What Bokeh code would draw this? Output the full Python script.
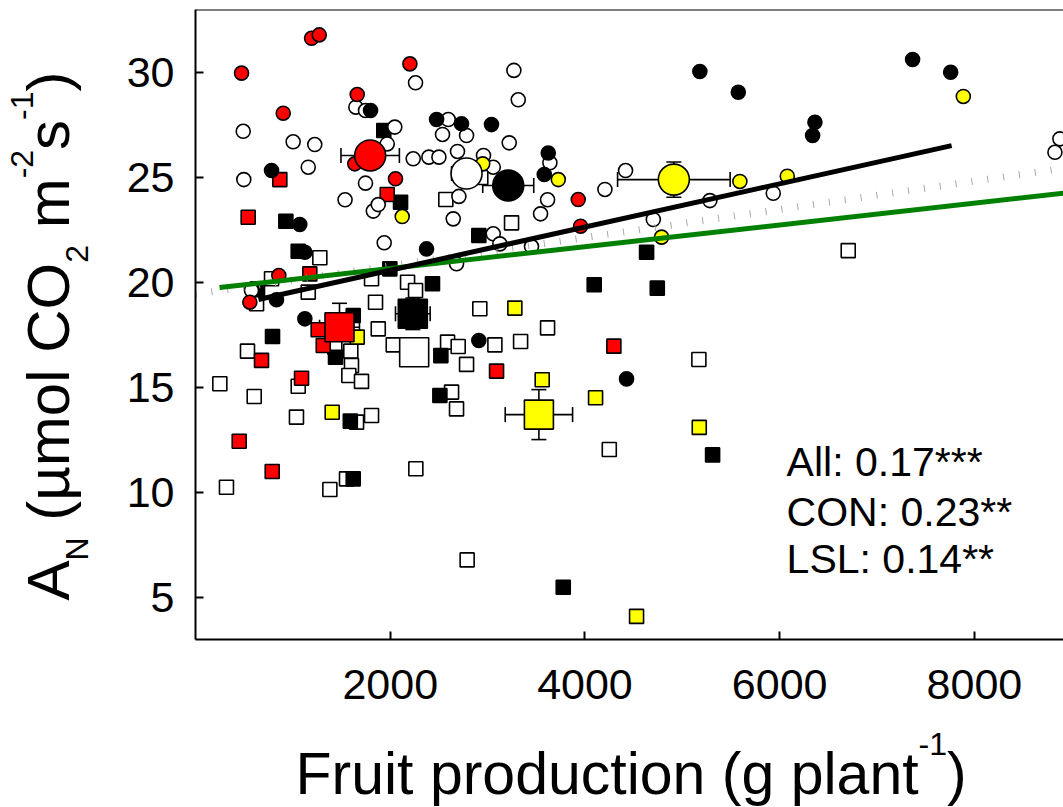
import math
from bokeh.plotting import figure
from bokeh.layouts import column, row
from bokeh.models import (Range1d, FixedTicker, Label, ColumnDataSource, Whisker,
                          TeeHead, Span)
from bokeh.embed import file_html
from bokeh.resources import INLINE
from bokeh.core.properties import value

# ---------------- data ----------------
x_ticks = [2000, 4000, 6000, 8000]
y_ticks = [5, 10, 15, 20, 25, 30]

# CON (circles)
con_red_x = [473, 1192, 1271, 2202, 901, 1661, 1636, 2054, 3931, 3955, 856, 558]
con_red_y = [29.97, 31.63, 31.79, 30.41, 28.06, 28.95, 25.65, 24.94, 23.95, 22.68, 20.33, 19.06]

con_white_x = [2260, 490, 496, 1003, 1225, 1158, 1647, 1746, 2047, 1969, 1746, 1536, 1826,
               1877, 2236, 2397, 2500, 2537, 2596, 2784, 2691, 2958, 2705, 3270, 3315, 3222,
               3058, 3640, 3616, 3544, 4205, 4417, 5283, 5934, 4702, 8878, 8827, 1938, 2681,
               3058, 2647, 575, 3126, 3451]
con_white_y = [29.51, 27.2, 24.9, 26.7, 26.57, 25.49, 28.35, 28.19, 27.4, 26.6, 24.73, 23.94, 23.4,
               23.71, 25.89, 25.97, 25.97, 27.05, 27.76, 27.0, 26.24, 26.05, 24.1, 30.1, 28.7, 26.65,
               25.49, 25.7, 23.94, 23.27, 24.43, 25.33, 23.9, 24.25, 23.0, 26.84, 26.2, 21.89, 20.89,
               22.32, 23.03, 19.62, 21.84, 21.71]

con_black_x = [1798, 781, 2476, 2732, 3040, 3623, 3582, 5180, 5575, 7365, 7756, 6362, 6338,
               1071, 2373, 832, 1123, 2910, 4427, 1123]
con_black_y = [28.19, 25.33, 27.76, 27.56, 27.52, 26.17, 25.14, 30.05, 29.06, 30.62, 30.01, 27.63, 27.0,
               22.76, 21.6, 19.18, 18.27, 17.24, 15.41, 21.44]

con_yellow_x = [2123, 2950, 3726, 5591, 7886, 6078, 4787]
con_yellow_y = [23.14, 25.65, 24.9, 24.81, 28.86, 25.06, 22.16]

# LSL (squares)
lsl_red_x = [866, 1969, 541, 1174, 678, 1089, 1260, 1312, 4297, 3092, 449, 788]
lsl_red_y = [24.9, 24.19, 23.11, 20.41, 16.29, 15.44, 17.75, 17.0, 16.97, 15.78, 12.44, 11.0]

lsl_black_x = [1934, 2106, 928, 1055, 637, 791, 1438, 1996, 2434, 2520, 2910, 2510, 1590,
               1620, 4633, 4095, 4743, 5311, 3777, 1620]
lsl_black_y = [27.24, 23.82, 22.92, 21.49, 19.70, 17.43, 16.44, 20.65, 19.94, 16.52, 22.24, 14.62, 13.4,
               18.43, 21.44, 19.89, 19.73, 11.79, 5.49, 10.65]

lsl_white_x = [2571, 1277, 781, 1158, 627, 1849, 2178, 2260, 1808, 2920, 1877, 2031, 2589, 2698,
               2784, 534, 1431, 1595, 1602, 1575, 1705, 250, 1055, 603, 2630, 2681, 1037, 1808,
               1654, 3246, 3616, 3075, 3339, 5170, 6704, 318, 1380, 1551, 2263, 2790, 4250, 2930]
lsl_white_y = [23.95, 21.18, 20.18, 19.54, 18.99, 19.06, 20.01, 19.62, 20.18, 18.75, 17.79, 17.03, 17.16, 16.95,
               16.1, 16.73, 16.92, 16.73, 16.05, 15.57, 15.29, 15.18, 15.06, 14.57, 14.78, 13.98, 13.59, 13.67,
               13.35, 22.84, 17.84, 17.03, 17.19, 16.33, 21.52, 10.25, 10.14, 10.65, 11.13, 6.79, 12.05, 25.0]

lsl_yellow_x = [1404, 1661, 3280, 3561, 4109, 5174, 4530]
lsl_yellow_y = [13.82, 17.4, 18.78, 15.37, 14.51, 13.1, 4.10]

# group means (+/- error)
mean_c_x = [1794, 2784, 3212, 4913]
mean_c_y = [26.05, 25.19, 24.62, 24.9]
mean_c_xerr = [300, 154, 262, 578]
mean_c_yerr = [0.3, 0.3, 0.3, 0.84]
mean_c_col = ["#FF0000", "#FFFFFF", "#000000", "#FFFF00"]

mean_s_x = [1479, 2232, 2246, 3527]
mean_s_y = [17.87, 18.51, 16.68, 13.71]
mean_s_xerr = [205, 178, 100, 346]
mean_s_yerr = [1.14, 0.75, 0.4, 1.19]
mean_s_col = ["#FF0000", "#000000", "#FFFFFF", "#FFFF00"]

# regressions: intercept, slope, x extent
reg_con = dict(b=18.524, m=0.0010296, x0=647, x1=7766)
reg_all = dict(b=19.632, m=0.000518, x0=247, x1=8915)
reg_lsl = dict(b=19.45, m=0.000672, x0=0, x1=8915)

stats = ["All: 0.17***", "CON: 0.23**", "LSL: 0.14**"]
stats_y = [11.47, 9.09, 6.81]
stats_x = 6071

x_title = [("Fruit production (g plant", "main"), ("-1", "sup"), (")", "main")]
y_title = [("A", "main"), ("N", "sub"), (" (\u00b5mol CO", "main"), ("2", "sub"),
           (" m", "main"), ("-2", "sup"), ("s", "main"), ("-1", "sup"), (")", "main")]

# ---------------- main figure ----------------
FONT = "Liberation Sans"
YT_W = 100          # width of the y-title strip
MAIN_H = 720        # height of the top row
TOP_B, BOT_B = 9, 81
p = figure(width=1063 - YT_W, height=MAIN_H, output_backend="svg", toolbar_location=None,
           x_range=Range1d(0, 8915), y_range=Range1d(3, 33),
           min_border_left=95, min_border_right=0, min_border_top=TOP_B, min_border_bottom=BOT_B)
p.outline_line_color = None
p.xgrid.grid_line_color = None
p.ygrid.grid_line_color = None

for ax in (p.xaxis[0], p.yaxis[0]):
    ax.axis_line_width = 2
    ax.axis_line_color = "black"
    ax.major_tick_line_width = 2
    ax.major_tick_in = 8
    ax.major_tick_out = 0
    ax.minor_tick_line_color = None
    ax.major_label_text_font = FONT
    ax.major_label_text_font_size = "43px"
    ax.major_label_text_color = "black"
p.xaxis.ticker = FixedTicker(ticks=x_ticks)
p.yaxis.ticker = FixedTicker(ticks=y_ticks)
p.xaxis.major_label_standoff = 30
p.yaxis.major_label_standoff = 21

p.add_layout(Span(location=33, dimension="width", line_color="black", line_width=2))

OUT = "black"
SMALL = 14
LW = 1.6

def circ(xs, ys, fill):
    p.scatter(xs, ys, marker="circle", size=SMALL, fill_color=fill, line_color=OUT, line_width=LW)

def sq(xs, ys, fill):
    p.scatter(xs, ys, marker="square", size=SMALL, fill_color=fill, line_color=OUT, line_width=LW)

sq(lsl_white_x, lsl_white_y, "#FFFFFF")
sq(lsl_black_x, lsl_black_y, "#000000")
sq(lsl_red_x, lsl_red_y, "#FF0000")
sq(lsl_yellow_x, lsl_yellow_y, "#FFFF00")
circ(con_white_x, con_white_y, "#FFFFFF")
circ(con_black_x, con_black_y, "#000000")
circ(con_red_x, con_red_y, "#FF0000")
circ(con_yellow_x, con_yellow_y, "#FFFF00")

def reg_line(r, **kw):
    xs = [r["x0"], r["x1"]]
    ys = [r["b"] + r["m"] * v for v in xs]
    p.line(xs, ys, **kw)

reg_line(reg_lsl, line_width=7, line_color="#a8a8a8", line_dash="1 15")
reg_line(reg_all, line_width=5, line_color="#008000")
reg_line(reg_con, line_width=5, line_color="black")

def errs(xs, ys, xe, ye):
    src = ColumnDataSource(dict(x=xs, y=ys,
                                xl=[a - b for a, b in zip(xs, xe)], xu=[a + b for a, b in zip(xs, xe)],
                                yl=[a - b for a, b in zip(ys, ye)], yu=[a + b for a, b in zip(ys, ye)]))
    for dim, base, lo, up in (("width", "y", "xl", "xu"), ("height", "x", "yl", "yu")):
        w = Whisker(source=src, base=base, lower=lo, upper=up, dimension=dim,
                    line_color="black", line_width=1.6, level="underlay",
                    upper_head=TeeHead(size=15, line_width=1.6, line_color="black"),
                    lower_head=TeeHead(size=15, line_width=1.6, line_color="black"))
        p.add_layout(w)

errs(mean_c_x, mean_c_y, mean_c_xerr, mean_c_yerr)
errs(mean_s_x, mean_s_y, mean_s_xerr, mean_s_yerr)

p.scatter(mean_s_x, mean_s_y, marker="square", size=29, fill_color=mean_s_col,
          line_color=OUT, line_width=LW)
p.scatter(mean_c_x, mean_c_y, marker="circle", size=31, fill_color=mean_c_col,
          line_color=OUT, line_width=LW)

p.text(x=[stats_x] * len(stats), y=stats_y, text=stats, text_font=value(FONT),
       text_font_size="41px", text_color="black", text_align="left", text_baseline="alphabetic")

# ---------------- axis titles with sub/superscripts ----------------
WID = {' ': 278, '(': 333, ')': 333, '-': 333, '1': 556, '2': 556, 'A': 667, 'C': 722, 'F': 611,
       'N': 722, 'O': 778, 'a': 556, 'c': 500, 'd': 556, 'g': 556, 'i': 222, 'l': 222, 'm': 833,
       'n': 556, 'o': 556, 'p': 556, 'r': 333, 's': 500, 't': 278, 'u': 556, '\u00b5': 576}
BASE_FIX = 0.37   # renderer draws "alphabetic" text this many em lower than the anchor

def tw(s, size):
    return sum(WID.get(c, 556) for c in s) * size / 1000.0

def blank(w, h, ylo, yhi, bt=0, bb=0):
    f = figure(width=w, height=h, output_backend="svg", toolbar_location=None,
               x_range=Range1d(0, w), y_range=Range1d(ylo, yhi), min_border=0,
               min_border_top=bt, min_border_bottom=bb,
               x_axis_location=None, y_axis_location=None)
    f.outline_line_color = None
    f.xgrid.visible = False
    f.ygrid.visible = False
    return f

def rich(fig, parts, x0, y0, angle, main, small, sub_shift, sup_shift):
    ca, sa = math.cos(angle), math.sin(angle)
    pos = 0.0
    for txt, kind in parts:
        size = main if kind == "main" else small
        stripped = txt.lstrip(" ")
        pos += tw(txt[:len(txt) - len(stripped)], size)   # leading blanks are collapsed in SVG
        off = 0 if kind == "main" else (-sub_shift if kind == "sub" else sup_shift)
        off += BASE_FIX * size
        sx = x0 + pos * ca - off * sa
        sy = y0 + pos * sa + off * ca
        fig.add_layout(Label(x=sx, y=sy, text=stripped, angle=angle, text_font=FONT,
                             text_font_size=f"{size}px", text_color="black",
                             text_align="left", text_baseline="alphabetic"))
        pos += tw(stripped, size)

# y-title strip: its frame is aligned with the main frame (canvas rows 9..639),
# data y = MAIN_H - canvas row
ytf = blank(YT_W, MAIN_H, BOT_B, MAIN_H - TOP_B, TOP_B, BOT_B)
rich(ytf, y_title, 70, MAIN_H - 600, math.pi / 2, 60, 32, 18, 37)

XT_H = 807 - MAIN_H
xtf = blank(1063, XT_H, 0, XT_H)
rich(xtf, x_title, 295, 807 - 795, 0.0, 59, 32, 16, 40)

layout = column(row(ytf, p), xtf)
open("out.html", "w").write(file_html(layout, INLINE))
